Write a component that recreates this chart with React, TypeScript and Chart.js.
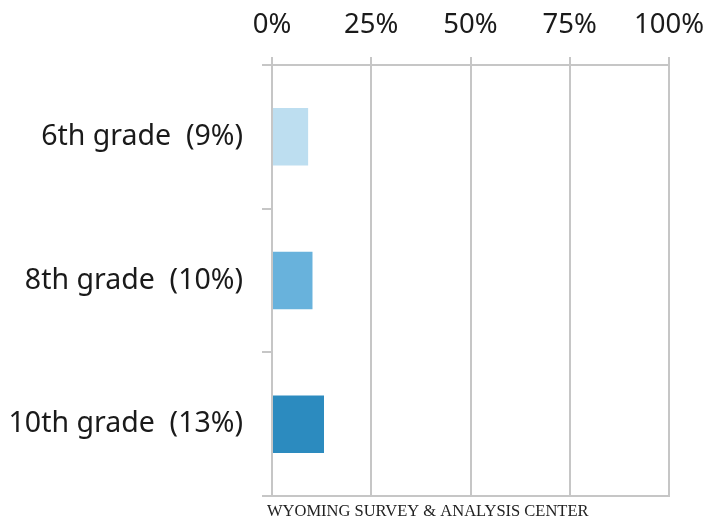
import React, { useEffect, useRef } from 'react';
import { Chart, registerables } from 'chart.js';

Chart.register(...registerables);

const categories = ['6th grade  (9%)', '8th grade  (10%)', '10th grade  (13%)'];
const values = [9.1, 10.2, 13.1];
const barColors = ['#bddef0', '#68b2dc', '#2c8bbf'];
const xMin = 0;
const xMax = 100;
const xStep = 25;
const footerText = 'WYOMING SURVEY & ANALYSIS CENTER';

const GRAY = '#c6c6c6';
const TEXT = '#1a1a1a';

const footerPlugin = {
  id: 'footerText',
  afterDraw(chart: any) {
    const { ctx, chartArea } = chart;
    ctx.save();
    ctx.font = '16.5px "Liberation Serif", serif';
    ctx.fillStyle = '#222222';
    ctx.textBaseline = 'middle';
    ctx.textAlign = 'left';
    ctx.fillText(footerText, chartArea.left - 5, 511.5);
    ctx.restore();
  },
};

export default function App() {
  const canvasRef = useRef<HTMLCanvasElement | null>(null);

  useEffect(() => {
    if (!canvasRef.current) return;
    const chart = new Chart(canvasRef.current, {
      type: 'bar',
      data: {
        labels: categories,
        datasets: [
          {
            data: values,
            backgroundColor: barColors,
            borderWidth: 0,
            barPercentage: 0.4,
            categoryPercentage: 1,
          },
        ],
      },
      options: {
        indexAxis: 'y',
        responsive: true,
        maintainAspectRatio: false,
        animation: false,
        layout: { padding: { left: 0, right: 40, top: 0, bottom: 26 } },
        plugins: {
          legend: { display: false },
          tooltip: { enabled: false },
          title: { display: false },
        },
        scales: {
          x: {
            position: 'top',
            min: xMin,
            max: xMax,
            ticks: {
              stepSize: xStep,
              callback: (v: any) => v + '%',
              font: { family: '"Noto Sans"', size: 27.5 },
              color: TEXT,
              padding: 15,
              maxRotation: 0,
            },
            grid: { color: GRAY, lineWidth: 2, tickLength: 8 },
            border: { display: true, color: GRAY, width: 2 },
            afterFit: (s: any) => {
              s.height = 65;
              s.paddingLeft = 0;
              s.paddingRight = 0;
            },
          },
          x2: {
            position: 'bottom',
            min: xMin,
            max: xMax,
            ticks: { display: false },
            grid: { display: false, drawTicks: false },
            border: { display: true, color: GRAY, width: 2 },
            afterFit: (s: any) => {
              s.height = 0;
              s.paddingLeft = 0;
              s.paddingRight = 0;
            },
          },
          y: {
            ticks: {
              font: { family: '"Noto Sans"', size: 28.5 },
              color: TEXT,
              padding: 19,
            },
            grid: {
              drawOnChartArea: false,
              tickLength: 10,
              color: GRAY,
              lineWidth: 2,
              offset: true,
            },
            border: { display: true, color: GRAY, width: 2 },
            afterFit: (s: any) => {
              s.width = 272;
              s.paddingTop = 0;
              s.paddingBottom = 0;
            },
          },
        },
      } as any,
      plugins: [footerPlugin],
    });
    return () => chart.destroy();
  }, []);

  return (
    <div style={{ position: 'fixed', left: 0, top: 0, width: 709, height: 522, background: '#ffffff' }}>
      <canvas ref={canvasRef} />
    </div>
  );
}
